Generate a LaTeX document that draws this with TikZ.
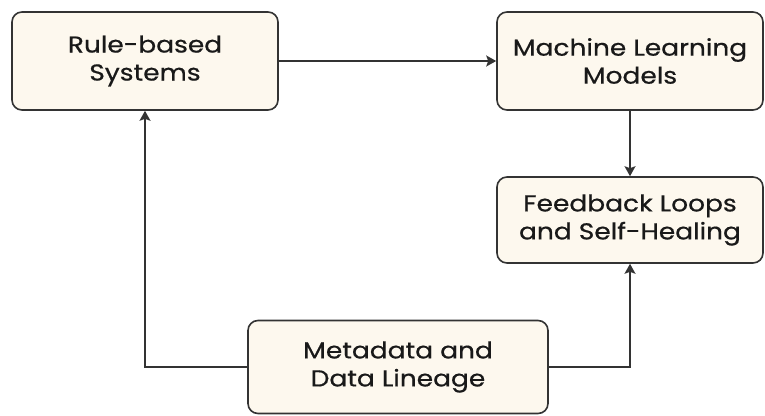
\documentclass[tikz,border=0pt]{standalone}
\usepackage{fontspec}
\setmainfont{Poppins}[FakeStretch=1.15, FakeBold=0.6]
\usetikzlibrary{arrows.meta}
\definecolor{boxfill}{HTML}{FDF8EE}
\definecolor{boxline}{HTML}{333333}
\tikzstyle{block} = [rectangle, rounded corners=10pt, draw=boxline, line width=1.6pt, fill=boxfill, text=black!90, text centered, align=center, font=\fontsize{23}{28}\selectfont]
\tikzstyle{arrow} = [line width=1.3pt, draw=boxline, -{Stealth[length=10pt, width=11pt, inset=2pt]}]

\begin{document}
\begin{tikzpicture}[x=1pt, y=-1pt]
            \useasboundingbox (0,0) rectangle (765,415);
            \node [block, minimum width=266pt, minimum height=98pt] at (145,61) (rules) {Rule-based\\Systems};
            \node [block, minimum width=266pt, minimum height=98pt] at (630,61) (ml) {Machine Learning\\Models};
            \node [block, minimum width=266pt, minimum height=86pt] at (630,220) (feedback) {Feedback Loops\\and Self-Healing};
            \node [block, minimum width=300pt, minimum height=93pt] at (398,367) (meta) {Metadata and\\Data Lineage};
            \draw [arrow] (rules) -- (ml);
            \draw [arrow] (ml) -- (feedback);
            \draw [arrow] (meta.west) -| (rules.south);
            \draw [arrow] (meta.east) -| (feedback.south);
            \end{tikzpicture}
\end{document}
